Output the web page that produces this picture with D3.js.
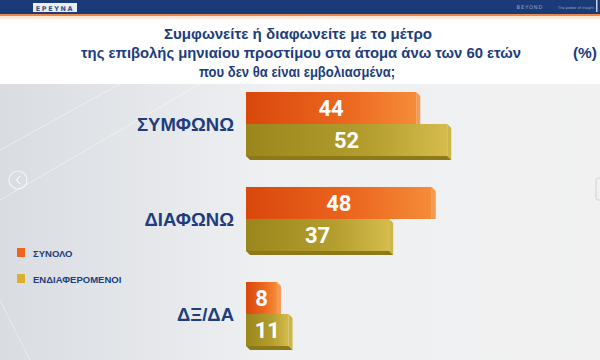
<!DOCTYPE html>
<html>
<head>
<meta charset="utf-8">
<script src="https://cdn.jsdelivr.net/npm/d3@7"></script>
<style>
  body { margin: 0; background: #fff; }
  svg { display: block; }
</style>
</head>
<body>
<svg id="svg" width="600" height="360"></svg>
<script>
// data
const categories = ["ΣΥΜΦΩΝΩ", "ΔΙΑΦΩΝΩ", "ΔΞ/ΔΑ"];
const seriesNames = ["ΣΥΝΟΛΟ", "ΕΝΔΙΑΦΕΡΟΜΕΝΟΙ"];
const synolo = [44, 48, 8];
const endiaferomenoi = [52, 37, 11];
const titleLines = [
  "Συμφωνείτε ή διαφωνείτε με το μέτρο",
  "της επιβολής μηνιαίου προστίμου στα άτομα άνω των 60 ετών",
  "που δεν θα είναι εμβολιασμένα;"
];

const svg = d3.select("#svg");
const defs = svg.append("defs");
const navy = "#1d3d7c";

// gradients
function addGrad(id, stops, x2, y2) {
  const g = defs.append("linearGradient").attr("id", id)
    .attr("x1", 0).attr("y1", 0).attr("x2", x2).attr("y2", y2);
  stops.forEach(([o, c]) => g.append("stop").attr("offset", o).attr("stop-color", c));
}
addGrad("bg", [[0, "#d9dce1"], [0.45, "#eef0f2"], [1, "#f1f1f1"]], 1, 0);
addGrad("gOrange", [[0, "#d9470c"], [0.6, "#ec6820"], [1, "#f58c3a"]], 1, 0);
addGrad("gOlive", [[0, "#9a861c"], [0.6, "#b39d2e"], [1, "#d4bb4c"]], 1, 0);

// background
svg.append("rect").attr("x", 0).attr("y", 0).attr("width", 600).attr("height", 360).attr("fill", "#fff");
svg.append("rect").attr("x", 0).attr("y", 84).attr("width", 600).attr("height", 276).attr("fill", "url(#bg)");
// faint decorative lines
[[0, 150, 120, 84], [0, 200, 200, 84], [30, 360, 0, 300]].forEach(([a, b, c, d]) => {
  svg.append("line").attr("x1", a).attr("y1", b).attr("x2", c).attr("y2", d)
    .attr("stroke", "#fff").attr("stroke-opacity", 0.45).attr("stroke-width", 1);
});

// header band
svg.append("rect").attr("x", 0).attr("y", 0).attr("width", 600).attr("height", 14).attr("fill", "#1b3a78");
svg.append("rect").attr("x", 0).attr("y", 14).attr("width", 600).attr("height", 2).attr("fill", "#e8894a");
svg.append("rect").attr("x", 0).attr("y", 16).attr("width", 600).attr("height", 3).attr("fill", "#fbe9dc");
svg.append("rect").attr("x", 33).attr("y", 3).attr("width", 44).attr("height", 9).attr("fill", "#e9edf5");
svg.append("text").attr("x", 55).attr("y", 10.5).attr("text-anchor", "middle")
  .attr("font-family", "DejaVu Sans").attr("font-size", 6.5).attr("font-weight", "bold")
  .attr("letter-spacing", 1.6).attr("fill", "#3a4f80").text("ΕΡΕΥΝΑ");
svg.append("text").attr("x", 530).attr("y", 9).attr("text-anchor", "middle")
  .attr("font-family", "DejaVu Sans").attr("font-size", 5).attr("letter-spacing", 1)
  .attr("fill", "#9aa6c4").text("BEYOND");
svg.append("text").attr("x", 576).attr("y", 9).attr("text-anchor", "middle")
  .attr("font-family", "DejaVu Sans").attr("font-size", 3.5)
  .attr("fill", "#9aa6c4").text("The power of insight");
svg.append("rect").attr("x", 596).attr("y", 0).attr("width", 1.5).attr("height", 12).attr("fill", "#c8d0e2");

// title (each line fitted to the width measured on the picture)
const titleBox = [[298, 268], [301, 440], [297, 196]];
titleLines.forEach((t, i) => {
  svg.append("text")
    .attr("x", titleBox[i][0] - titleBox[i][1] / 2).attr("y", 39 + i * 19)
    .attr("textLength", titleBox[i][1]).attr("lengthAdjust", "spacingAndGlyphs")
    .attr("font-family", "Liberation Sans").attr("font-weight", "bold").attr("font-size", 15.5)
    .attr("fill", navy).text(t);
});
svg.append("text").attr("x", 597).attr("y", 58).attr("text-anchor", "end")
  .attr("font-family", "Liberation Sans").attr("font-weight", "bold").attr("font-size", 15.5)
  .attr("fill", navy).text("(%)");

// slide arrows
svg.append("circle").attr("cx", 18).attr("cy", 180).attr("r", 9)
  .attr("fill", "none").attr("stroke", "#fff").attr("stroke-opacity", 0.7).attr("stroke-width", 1.2);
svg.append("path").attr("d", "M20,176 L16.5,180 L20,184").attr("fill", "none")
  .attr("stroke", "#fff").attr("stroke-opacity", 0.7).attr("stroke-width", 1.2);
svg.append("rect").attr("x", 596).attr("y", 178).attr("width", 8).attr("height", 22).attr("rx", 2)
  .attr("fill", "none").attr("stroke", "#cfd2d6");

// scales
const x = d3.scaleLinear().domain([0, 100]).range([246, 633]);
const y = d3.scaleBand().domain(categories).range([92, 346]).paddingInner(0.326);
const ySub = d3.scaleBand().domain(seriesNames).range([0, y.bandwidth()]);

const rows = categories.map((c, i) => ({ cat: c, values: [synolo[i], endiaferomenoi[i]] }));
const fills = ["url(#gOrange)", "url(#gOlive)"];
const sideCols = ["#f39a55", "#cdb648"];
const bottomCols = ["#c4560f", "#8d7a17"];
const depth = 4;

const groups = svg.selectAll(".grp").data(rows).join("g")
  .attr("class", "grp")
  .attr("transform", d => `translate(0,${y(d.cat)})`);

// category labels
groups.append("text")
  .attr("x", 234).attr("y", ySub.bandwidth() + 7)
  .attr("text-anchor", "end")
  .attr("font-family", "Liberation Sans").attr("font-weight", "bold").attr("font-size", 18.5)
  .attr("fill", navy)
  .text(d => d.cat);

// bars, drawn with extrusion (side + bottom)
groups.each(function (d) {
  const g = d3.select(this);
  d.values.forEach((v, j) => {
    const y0 = ySub(seriesNames[j]);
    const h = ySub.bandwidth();
    const x0 = x(0), x1 = x(v);
    // side face
    g.append("path")
      .attr("d", `M${x1},${y0} L${x1 + depth},${y0 + depth} L${x1 + depth},${y0 + h + (j === 1 ? depth : 0)} L${x1},${y0 + h} Z`)
      .attr("fill", sideCols[j]);
    if (j === 1) {
      // bottom face
      g.append("path")
        .attr("d", `M${x0},${y0 + h} L${x1},${y0 + h} L${x1 + depth},${y0 + h + depth} L${x0 + depth},${y0 + h + depth} Z`)
        .attr("fill", bottomCols[j]);
    }
    g.append("rect")
      .attr("x", x0).attr("y", y0)
      .attr("width", x1 - x0).attr("height", h)
      .attr("fill", fills[j]);
    g.append("text")
      .attr("x", (x0 + x1) / 2).attr("y", y0 + h / 2 + 8)
      .attr("text-anchor", "middle")
      .attr("font-family", "Roboto").attr("font-weight", "bold").attr("font-size", 22)
      .attr("fill", "#fff")
      .text(v);
  });
});

// legend
const legendCols = ["#ec6622", "#dcb02e"];
const legend = svg.selectAll(".leg").data(seriesNames).join("g")
  .attr("class", "leg")
  .attr("transform", (d, i) => `translate(17,${248 + i * 26})`);
legend.append("rect").attr("width", 8).attr("height", 9).attr("fill", (d, i) => legendCols[i]);
legend.append("text").attr("x", 16).attr("y", 8.5)
  .attr("font-family", "Liberation Sans").attr("font-weight", "bold").attr("font-size", 9.5)
  .attr("fill", navy).text(d => d);
</script>
</body>
</html>
